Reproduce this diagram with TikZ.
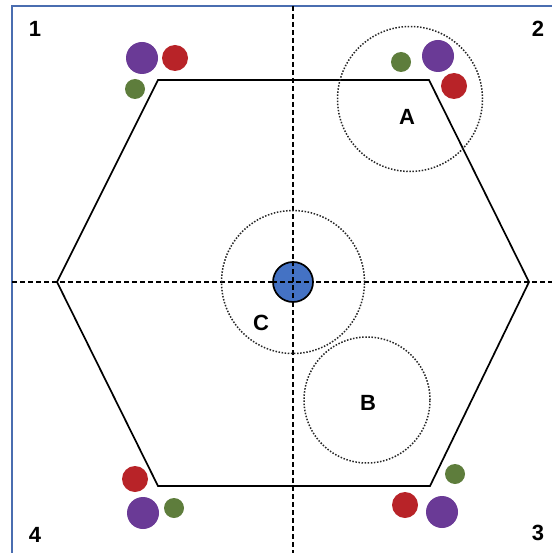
\documentclass[tikz,border=0pt]{standalone}
\usepackage{fontspec}
\setmainfont{Liberation Sans}
\usepackage{tikz}
\usetikzlibrary{positioning}
\definecolor{framblue}{HTML}{4A6DB0}
\definecolor{ballpurple}{HTML}{6A3A96}
\definecolor{ballred}{HTML}{B82328}
\definecolor{ballgreen}{HTML}{5E7D3C}
\definecolor{corefill}{HTML}{4472C4}

\begin{document}
\begin{tikzpicture}[x=1pt, y=-1pt,
  big/.style={circle, fill=ballpurple, minimum size=32pt, inner sep=0pt},
  mid/.style={circle, fill=ballred, minimum size=26pt, inner sep=0pt},
  small/.style={circle, fill=ballgreen, minimum size=20pt, inner sep=0pt},
  zone/.style={circle, draw=black!85, line width=1.5pt, dash pattern=on 1.5pt off 1.6pt, inner sep=0pt},
  axis/.style={line width=1.5pt, dash pattern=on 5pt off 3pt},
  tag/.style={font=\fontsize{22}{24}\selectfont\bfseries}
]
\useasboundingbox (0,0) rectangle (552,553);

%% Frame
\coordinate (fbl) at (12,553);
\coordinate (ftl) at (12,6);
\coordinate (ftr) at (552,6);
\draw[framblue, line width=1.8pt] (fbl) -- (ftl) -- (ftr);

%% Axes
\coordinate (xw) at (12,282);
\coordinate (xe) at (552,282);
\coordinate (yn) at (293,6);
\coordinate (ys) at (293,553);
\draw[axis] (xw) -- (xe);
\draw[axis] (yn) -- (ys);

%% Hexagon
\coordinate (h1) at (57,282);
\coordinate (h2) at (158,80);
\coordinate (h3) at (429,80);
\coordinate (h4) at (529,282);
\coordinate (h5) at (430,486);
\coordinate (h6) at (158,486);
\draw[line width=1.7pt] (h1) -- (h2) -- (h3) -- (h4) -- (h5) -- (h6) -- cycle;

%% Zones A, B, C
\node[zone, minimum size=145pt] (zoneA) at (410,99) {};
\node[zone, minimum size=126pt] (zoneB) at (367,400) {};
\node[zone, minimum size=143pt] (zoneC) at (293,282) {};
\node[tag] (labA) at (407,117) {A};
\node[tag] (labB) at (368,403) {B};
\node[tag] (labC) at (261,323) {C};

%% Core
\node[circle, fill=corefill, draw, line width=1.7pt, minimum size=40pt, inner sep=0pt] (core) at (293,282) {};
\draw[axis] (core.west) -- (core.east);
\draw[axis] (core.north) -- (core.south);

%% Balls at the corners
\node[big] (p1) at (142,58) {};
\node[mid] (r1) at (175,58) {};
\node[small] (g1) at (135,89) {};

\node[small] (g2) at (401,62) {};
\node[big] (p2) at (438,56) {};
\node[mid] (r2) at (454,86) {};

\node[small] (g3) at (455,474) {};
\node[mid] (r3) at (405,505) {};
\node[big] (p3) at (442,512) {};

\node[mid] (r4) at (135,479) {};
\node[big] (p4) at (143,513) {};
\node[small] (g4) at (174,508) {};

%% Quadrant numbers
\node[tag] (n1) at (35,29) {1};
\node[tag] (n2) at (538,29) {2};
\node[tag] (n3) at (538,533) {3};
\node[tag] (n4) at (35,535) {4};
\end{tikzpicture}
\end{document}
